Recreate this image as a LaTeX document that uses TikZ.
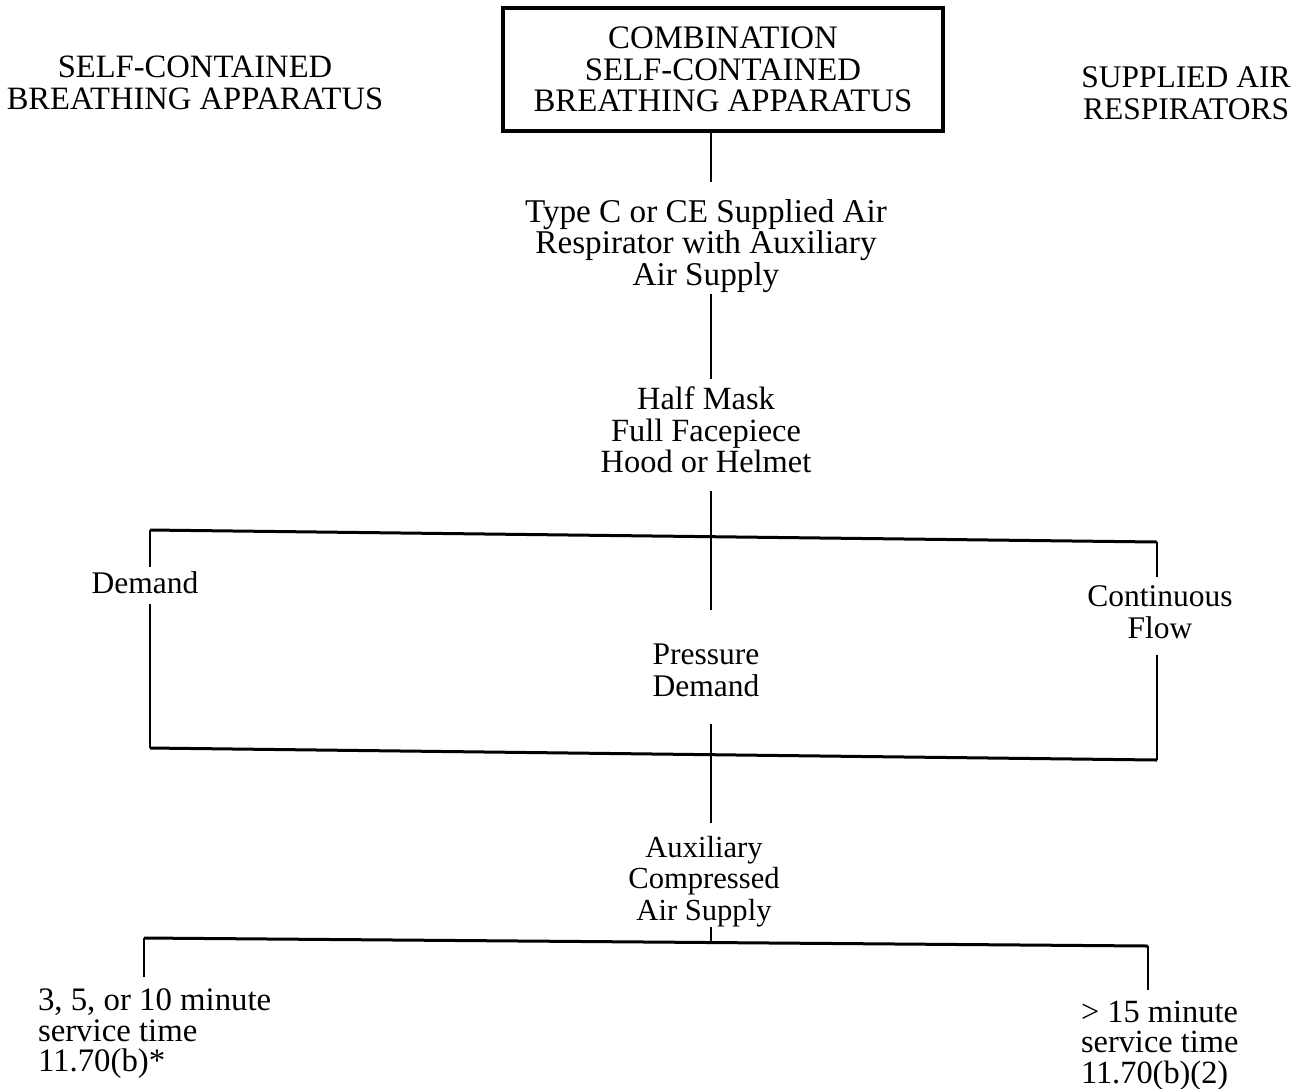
\documentclass[tikz,border=0pt]{standalone}
\usepackage{fontspec}
\setmainfont{Liberation Serif}
\begin{document}
\begin{tikzpicture}[x=0.5pt,y=-0.5pt,
  txt/.style={font=\fontsize{15.75}{15.75}\selectfont, align=center, inner sep=0pt, outer sep=0pt},
  fsz/.style={font=\fontsize{#1}{15.75}\selectfont},
  fszb/.style={font=\fontsize{#1}{15.2}\selectfont},
  conn/.style={line width=1.1pt},
  bar/.style={line width=1.5pt}]
\useasboundingbox (0,0) rectangle (1310,1088);
% titles
\node[txt,fsz=16.3,anchor=north] (lt) at (195,56) {SELF-CONTAINED\\BREATHING APPARATUS};
\node[txt,fsz=16.4,draw,line width=1.6pt,minimum width=220pt,minimum height=61.5pt] (box) at (723,69.5) {COMBINATION\\SELF-CONTAINED\\BREATHING APPARATUS};
\node[txt,anchor=north] (rt) at (1186,67) {SUPPLIED AIR\\RESPIRATORS};
% column
\node[txt,fsz=16.6,anchor=north] (tc) at (706,199) {Type C or CE Supplied Air\\Respirator with Auxiliary\\Air Supply};
\node[txt,fsz=16.2,anchor=north] (hm) at (706,387) {Half Mask\\Full Facepiece\\Hood or Helmet};
\node[txt,anchor=north] (dm) at (145,572) {Demand};
\node[txt,anchor=north] (cf) at (1160,586) {Continuous\\Flow};
\node[txt,anchor=north] (pd) at (706,644) {Pressure\\Demand};
\node[txt,fsz=15.3,anchor=north] (ax) at (704,836) {Auxiliary\\Compressed\\Air Supply};
\node[txt,fszb=16.4,anchor=north west,align=left] (s1) at (38,989) {3, 5, or 10 minute\\service time\\11.70(b)*};
\node[txt,fszb=16.2,anchor=north west,align=left] (s2) at (1081,1001) {> 15 minute\\service time\\11.70(b)(2)};
% coordinates
\coordinate (sx) at (711,0);
\coordinate (tl) at (150,530);
\coordinate (tr) at (1157,542);
\coordinate (bl) at (150,748);
\coordinate (br) at (1157,760);
\coordinate (al) at (144,938);
\coordinate (ar) at (1148,946);
\coordinate (am) at (711,942);
% spine
\draw[conn,shorten >=8.5pt] (box.south -| sx) -- (tc.north -| sx);
\draw[conn,shorten <=0.8pt,shorten >=4pt] (tc.south -| sx) -- (hm.north -| sx);
\draw[conn,shorten <=9pt,shorten >=17pt] (hm.south -| sx) -- (pd.north -| sx);
\draw[conn,shorten <=14pt,shorten >=6.5pt] (pd.south -| sx) -- (ax.north -| sx);
\draw[conn] (ax.south -| sx) -- (am);
% brackets
\draw[bar] (tl) -- (tr);
\draw[bar] (bl) -- (br);
\draw[bar] (al) -- (ar);
\draw[conn,shorten >=2.5pt] (tl) -- (tl |- dm.north);
\draw[conn,shorten <=4.75pt] (dm.south -| tl) -- (bl);
\draw[conn,shorten >=4.5pt] (tr) -- (tr |- cf.north);
\draw[conn,shorten <=8pt] (cf.south -| tr) -- (br);
\draw[conn,shorten >=6pt] (al) -- (al |- s1.north);
\draw[conn,shorten >=5.5pt] (ar) -- (ar |- s2.north);
\end{tikzpicture}
\end{document}
